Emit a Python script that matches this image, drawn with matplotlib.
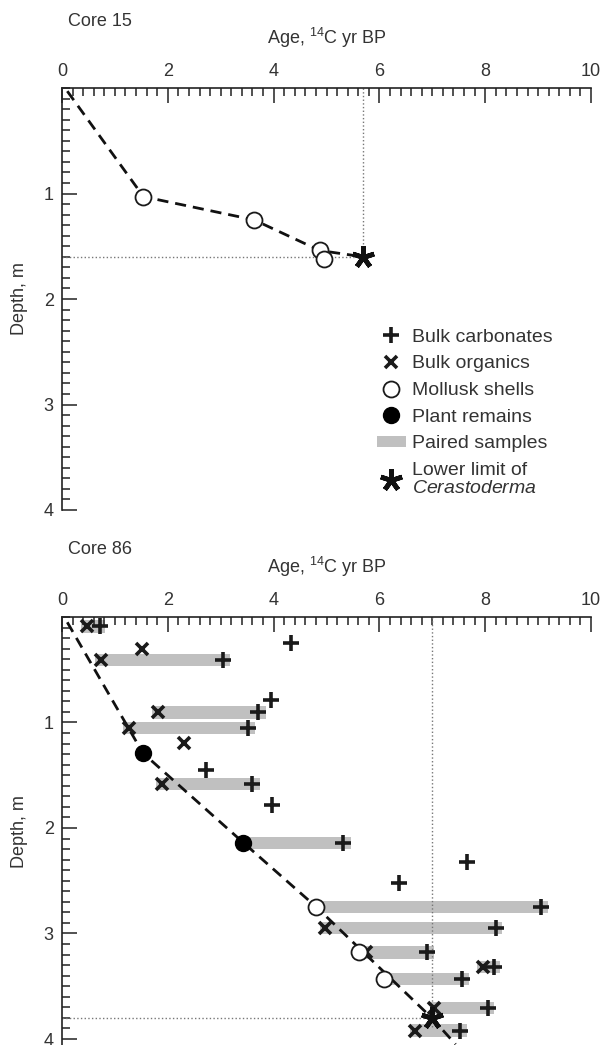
import matplotlib
matplotlib.use("Agg")
from matplotlib import pyplot as plt
from matplotlib.lines import Line2D
from matplotlib.patches import Patch

plt.rcParams['font.family'] = ['Liberation Sans', 'DejaVu Sans']
plt.rcParams['mathtext.fontset'] = 'custom'
plt.rcParams['mathtext.rm'] = 'Liberation Sans'
plt.rcParams['mathtext.it'] = 'Liberation Sans:italic'

# ---- Core 15 ----
c15_shell_age = [1.54, 3.63, 4.87, 4.96]
c15_shell_depth = [1.03, 1.25, 1.54, 1.62]
c15_line_age = [0.1, 1.54, 3.63, 4.87, 5.69]
c15_line_depth = [0.03, 1.03, 1.25, 1.54, 1.60]
c15_limit_age = 5.69
c15_limit_depth = 1.60

# ---- Core 86 ----
carb_age = [0.71, 4.32, 3.04, 3.96, 3.70, 3.52, 2.72, 3.59, 3.97, 5.32,
            7.66, 6.37, 9.06, 8.21, 6.90, 8.17, 7.57, 8.05, 7.53]
carb_depth = [0.09, 0.25, 0.41, 0.79, 0.905, 1.05, 1.45, 1.58, 1.78, 2.14,
              2.32, 2.52, 2.75, 2.95, 3.18, 3.32, 3.43, 3.71, 3.92]
org_age = [0.47, 1.51, 0.74, 1.82, 1.26, 2.30, 1.89, 4.97, 5.74, 7.95, 7.04, 6.68]
org_depth = [0.09, 0.30, 0.41, 0.905, 1.05, 1.19, 1.58, 2.95, 3.18, 3.32, 3.71, 3.92]
shell_age = [4.81, 5.61, 6.08]
shell_depth = [2.75, 3.18, 3.43]
plant_age = [1.53, 3.43]
plant_depth = [1.29, 2.14]
pair_left = [0.36, 0.62, 1.71, 1.15, 1.78, 3.43, 4.81, 4.87, 5.63, 7.84, 6.08, 6.97, 6.57]
pair_right = [0.81, 3.18, 3.85, 3.65, 3.74, 5.46, 9.19, 8.32, 7.03, 8.28, 7.70, 8.17, 7.66]
pair_depth = [0.09, 0.41, 0.905, 1.05, 1.58, 2.14, 2.75, 2.95, 3.18, 3.32, 3.43, 3.71, 3.92]
c86_line_age = [0.1, 1.53, 3.43, 4.81, 6.99, 7.44]
c86_line_depth = [0.05, 1.29, 2.14, 2.75, 3.80, 4.05]
c86_limit_age = 7.0
c86_limit_depth = 3.80

TXT = '#333333'
FS = 13
STAR = (5, 2, 0)

W, H = 603, 1045
fig = plt.figure(figsize=(W / 100, H / 100), dpi=100)

x0, x1 = 62, 591


def make_axes(top_px, ylim_bottom, px_per_m=105.5):
	h = ylim_bottom * px_per_m
	ax = fig.add_axes([x0 / W, 1 - (top_px + h) / H, (x1 - x0) / W, h / H])
	ax.set_xlim(0, 10)
	ax.set_ylim(ylim_bottom, 0)
	for s in ['right', 'bottom']:
		ax.spines[s].set_visible(False)
	for s in ['top', 'left']:
		ax.spines[s].set_color('#222222')
		ax.spines[s].set_linewidth(1.2)
	ax.xaxis.tick_top()
	ax.set_xticks([0, 2, 4, 6, 8, 10])
	ax.set_xticks([i * 0.2 for i in range(51)], minor=True)
	ax.set_yticks([1, 2, 3, 4])
	ax.set_yticks([i * 0.1 for i in range(41)], minor=True)
	ax.tick_params(which='both', direction='in', color='#222222', width=1.1,
	               labelsize=FS, labelcolor=TXT, pad=6)
	ax.tick_params(which='major', length=10.5)
	ax.tick_params(which='minor', length=5.5)
	ax.set_ylabel('Depth, m', fontsize=FS, color=TXT)
	ax.yaxis.set_label_coords(-(x0 - 28) / (x1 - x0), 0.5)
	return ax


def titles(ax, name, h):
	ax.text(0.011, 1 + 67 / h, name, transform=ax.transAxes, fontsize=FS,
	        color=TXT, ha='left', va='center')
	ax.text(0.5, 1 + 50 / h, 'Age, $^{14}$C yr BP', transform=ax.transAxes,
	        fontsize=FS, color=TXT, ha='center', va='center')


def carb(ax, a, d):
	ax.plot(a, d, ls='none', marker='+', ms=11, mew=2.6, color='#1a1a1a', zorder=5)


def org(ax, a, d):
	ax.plot(a, d, ls='none', marker='x', ms=8, mew=2.6, color='#1a1a1a', zorder=5)


# ---- top panel ----
ax1 = make_axes(88, 4.0)
titles(ax1, 'Core 15', 4.0 * 105.5)
ax1.plot([c15_limit_age, c15_limit_age], [0, c15_limit_depth], ls=':', color='#777777', lw=1)
ax1.plot([0, c15_limit_age], [c15_limit_depth, c15_limit_depth], ls=':', color='#777777', lw=1)
ax1.plot(c15_line_age, c15_line_depth, ls=(0, (4, 2.5)), color='#111111', lw=2, zorder=3)
ax1.plot(c15_shell_age, c15_shell_depth, ls='none', marker='o', ms=11.5, mfc='white',
         mec='#1a1a1a', mew=1.3, zorder=6)
ax1.plot([c15_limit_age], [c15_limit_depth], ls='none', marker=STAR, ms=16, mew=3.4,
         color='#111111', zorder=7)

handles = [
	Line2D([], [], ls='none', marker='+', ms=11, mew=2.6, color='#1a1a1a'),
	Line2D([], [], ls='none', marker='x', ms=8, mew=2.6, color='#1a1a1a'),
	Line2D([], [], ls='none', marker='o', ms=11.5, mfc='white', mec='#1a1a1a', mew=1.3),
	Line2D([], [], ls='none', marker='o', ms=11.5, mfc='black', mec='black'),
	Patch(facecolor='#c0c0c0', edgecolor='none'),
	Line2D([], [], ls='none', marker=STAR, ms=16, mew=3.4, color='#111111'),
]
labels = ['Bulk carbonates', 'Bulk organics', 'Mollusk shells', 'Plant remains',
          'Paired samples', 'Lower limit of\n$\\mathit{Cerastoderma}$']
leg = ax1.legend(handles, labels, loc='upper left', bbox_to_anchor=(0.595, 0.43),
                 frameon=False, fontsize=14, handlelength=1.5, handletextpad=0.3,
                 handleheight=0.55, labelspacing=0.5, borderpad=0, borderaxespad=0)
for t in leg.get_texts():
	t.set_color(TXT)
leg.get_texts()[-1].set_linespacing(1.1)

# ---- bottom panel ----
ax2 = make_axes(617, 4.06)
titles(ax2, 'Core 86', 4.06 * 105.5)
ax2.plot([c86_limit_age, c86_limit_age], [0, c86_limit_depth + 0.1], ls=':', color='#777777', lw=1)
ax2.plot([0, c86_limit_age], [c86_limit_depth, c86_limit_depth], ls=':', color='#777777', lw=1)
ax2.barh(pair_depth, [r - l for l, r in zip(pair_left, pair_right)], left=pair_left,
         height=0.115, color='#c0c0c0', zorder=1)
ax2.plot(c86_line_age, c86_line_depth, ls=(0, (4, 2.5)), color='#111111', lw=2, zorder=3)
carb(ax2, carb_age, carb_depth)
org(ax2, org_age, org_depth)
ax2.plot(shell_age, shell_depth, ls='none', marker='o', ms=11.5, mfc='white',
         mec='#1a1a1a', mew=1.3, zorder=6)
ax2.plot(plant_age, plant_depth, ls='none', marker='o', ms=11.5, mfc='black',
         mec='black', zorder=6)
ax2.plot([c86_limit_age], [c86_limit_depth], ls='none', marker=STAR, ms=16, mew=3.4,
         color='#111111', zorder=7)

fig.savefig('out.png', dpi=100)
